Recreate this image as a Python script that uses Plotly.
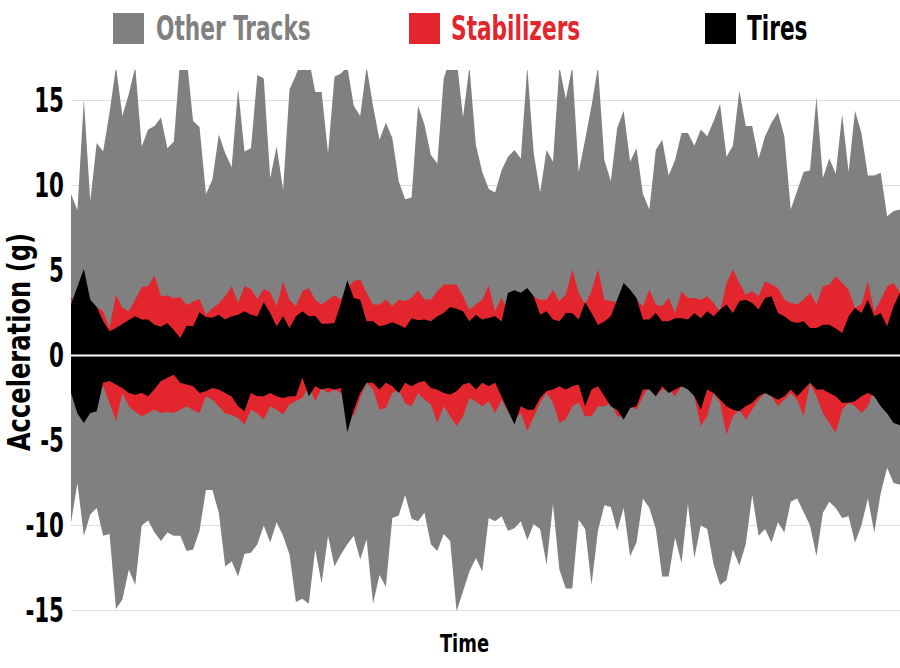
import plotly.graph_objects as go

# ---------------- data ----------------
time = list(range(130))

other_tracks_pos = [9.5, 8.55, 15.06, 9.1, 12.5, 12.0, 14.3, 17.0, 14.1, 15.4,
 17.0, 12.3, 13.3, 13.5, 14.0, 12.2, 12.6, 17.5, 17.5, 13.8,
 13.45, 9.5, 10.35, 13.0, 11.9, 11.1, 15.7, 12.0, 12.2, 16.5,
 16.3, 10.45, 12.3, 9.76, 15.65, 16.5, 17.5, 17.5, 15.5, 15.5,
 11.9, 16.4, 16.6, 17.0, 14.7, 14.1, 17.0, 14.7, 12.7, 13.7,
 12.8, 10.25, 9.2, 9.3, 14.7, 13.6, 11.8, 11.3, 16.3, 17.5,
 17.5, 14.0, 17.0, 12.4, 10.8, 9.8, 9.6, 10.9, 11.7, 12.1,
 11.6, 17.0, 11.9, 9.6, 12.1, 11.4, 17.0, 15.1, 17.0, 10.8,
 12.7, 14.7, 17.0, 11.5, 10.25, 13.4, 14.4, 11.4, 12.2, 9.5,
 8.6, 12.1, 12.7, 10.6, 11.5, 13.1, 13.1, 12.35, 13.3, 12.9,
 13.8, 14.8, 11.7, 12.35, 15.6, 13.5, 13.5, 11.6, 12.9, 13.7,
 14.3, 12.9, 8.6, 9.7, 10.8, 10.9, 15.2, 10.45, 11.6, 10.7,
 14.2, 10.8, 14.4, 13.1, 10.6, 10.6, 10.75, 8.2, 8.5, 8.6]

other_tracks_neg = [-9.84, -7.49, -10.6, -9.35, -8.96, -10.6, -10.5, -14.9, -14.35, -12.6,
 -13.5, -10.0, -9.7, -10.4, -10.9, -10.4, -10.6, -10.6, -11.5, -11.4,
 -10.3, -7.9, -7.9, -9.25, -12.4, -12.1, -13.0, -11.65, -11.6, -11.1,
 -10.0, -11.0, -9.8, -10.6, -11.7, -14.5, -14.3, -14.6, -11.4, -13.4,
 -10.6, -12.4, -11.7, -11.1, -10.6, -12.0, -10.8, -14.6, -12.9, -13.6,
 -9.55, -9.4, -8.2, -9.6, -9.75, -9.25, -11.1, -11.5, -10.5, -10.9,
 -15.04, -13.9, -12.7, -11.9, -12.7, -9.55, -9.75, -9.45, -10.3, -10.15,
 -9.75, -10.85, -9.9, -10.2, -12.3, -8.75, -12.6, -13.7, -13.7, -9.65,
 -10.2, -13.5, -10.3, -8.8, -8.9, -10.3, -8.96, -11.8, -11.0, -8.4,
 -8.96, -10.2, -13.0, -13.0, -10.7, -12.2, -8.75, -11.9, -10.0, -10.2,
 -12.3, -13.5, -13.2, -11.4, -12.35, -11.1, -8.2, -10.6, -10.2, -11.0,
 -9.8, -10.4, -8.6, -8.4, -9.2, -10.0, -11.8, -9.25, -8.6, -8.96,
 -9.55, -9.45, -11.0, -10.0, -8.4, -10.4, -8.1, -6.6, -7.5, -7.6]

stabilizers_pos = [3.5, 3.0, 2.8, 2.9, 2.86, 2.61, 1.63, 3.59, 2.8, 2.61,
 3.3, 4.04, 4.08, 4.71, 3.49, 3.53, 3.37, 3.45, 2.98, 3.18,
 3.33, 2.41, 2.8, 3.06, 3.5, 4.08, 3.1, 4.08, 3.92, 3.33,
 3.92, 3.73, 2.9, 4.37, 3.29, 2.9,
 3.78, 3.98, 3.29, 3.0,
 3.29, 3.55, 3.29, 4.0, 4.37, 4.47, 3.69, 3.0, 3.0, 3.3,
 2.9, 3.3, 3.2, 3.4, 3.85, 3.3, 3.3, 3.78, 4.18, 4.18,
 4.18, 3.49, 2.7, 3.0, 3.29, 4.12, 2.6, 3.4, 2.6, 3.78,
 3.69, 3.78, 3.49, 3.29, 3.29, 3.88, 3.2, 3.6, 5.06, 3.7,
 3.0, 3.8, 5.1,
 3.29, 3.2, 3.14, 4.27, 3.9, 3.29, 2.9, 3.88, 3.0,
 2.9, 3.4, 2.5, 3.78, 3.39, 3.39, 3.29, 3.49, 3.1, 2.6,
 4.27, 5.06, 4.27, 3.59, 3.78, 3.49, 4.37, 4.18, 3.98, 3.3,
 3.1, 3.0, 3.3, 3.69, 3.0, 4.08, 4.18, 4.67, 4.27, 3.88,
 2.8, 3.0, 4.37, 2.6, 3.29, 4.08, 4.27, 3.69]

stabilizers_neg = [-2.3, -2.5, -2.8, -2.6, -1.8, -1.8, -2.8, -3.86, -2.2, -2.98,
 -3.3, -3.57, -3.37, -3.18, -3.37, -3.3, -3.37, -3.18, -2.98, -3.2,
 -3.37, -2.39, -2.59, -2.98, -3.4, -3.5, -3.67, -4.06, -3.18, -3.4,
 -3.76, -2.98, -3.18, -3.47, -2.88, -2.67,
 -2.49, -1.8, -2.69, -1.9,
 -2.2, -2.0, -2.2, -3.0, -3.57, -2.49, -1.6, -2.0, -3.18, -3.08,
 -2.2, -2.0, -2.8, -2.98, -2.2, -2.59, -2.88, -3.96, -2.98, -3.57,
 -4.16, -3.57, -2.49, -2.7, -2.98, -2.69, -3.37, -2.59, -3.3, -3.8,
 -3.37, -4.45, -3.57, -2.78, -2.2, -2.78, -3.96, -3.76, -2.98, -2.78,
 -3.57, -3.57, -2.98,
 -2.98, -2.78, -3.57, -3.6, -2.98, -3.18, -2.4, -1.7, -2.39,
 -2.0, -2.0, -2.39, -1.8, -1.7, -2.39, -4.16, -3.57, -2.2, -2.78,
 -4.65, -3.57, -3.18, -3.76, -3.18, -2.59, -2.2, -2.39, -2.98, -2.59,
 -2.2, -2.59, -3.57, -1.63, -2.39, -3.37, -3.96, -4.55, -3.18, -2.78,
 -2.98, -3.37, -2.98, -1.96, -2.39, -3.18, -3.96, -4.0]

tires_pos = [3.0, 4.0, 5.1, 3.29, 2.86, 2.02, 1.43, 1.63, 1.88, 2.1,
 2.31, 2.12, 2.12, 1.82, 1.69, 1.92, 1.5, 1.04, 1.76, 1.73,
 2.55, 2.27, 2.22, 2.41, 2.12, 2.31, 2.41, 2.61, 2.4, 2.31,
 3.14, 2.51, 1.73, 2.31, 1.63, 2.31,
 2.61, 2.31, 2.35, 1.88,
 1.88, 1.92, 3.1, 4.43, 3.39, 3.29, 2.02, 2.02, 1.73, 1.82,
 1.96, 1.82, 1.63, 2.2, 2.08, 2.12, 2.02, 2.31, 2.51, 2.86,
 2.75, 2.61, 2.02, 2.41, 2.12, 2.2, 2.31, 2.02, 3.69, 3.84,
 3.69, 3.98, 3.49, 2.41, 2.61, 2.12, 2.02, 2.51, 2.51, 2.12,
 3.14, 2.51, 1.8,
 2.0, 2.31, 3.3, 4.27, 3.88, 3.39, 2.12, 2.12, 2.51,
 2.02, 2.02, 2.2, 2.2, 2.12, 2.51, 2.2, 2.61, 2.31, 2.71,
 3.0, 2.51, 3.2, 3.29, 3.1, 2.71, 3.39, 3.49, 2.51, 2.31,
 2.02, 1.92, 2.02, 1.63, 1.63, 1.82, 1.82, 1.6, 1.33, 2.31,
 2.8, 2.51, 3.29, 2.31, 2.51, 1.73, 2.9, 3.69]

tires_neg = [-2.2, -3.4, -3.96, -3.37, -3.27, -1.6, -1.5, -1.7, -1.9, -2.2,
 -2.3, -2.2, -2.39, -1.96, -1.5, -1.3, -1.12, -1.6, -1.7, -1.8,
 -2.2, -2.1, -1.9, -2.0, -2.2, -2.4, -2.98, -3.27, -2.2, -2.39,
 -2.39, -2.2, -2.39, -2.5, -2.39, -2.39,
 -1.31, -2.39, -1.8, -2.0,
 -1.9, -2.0, -1.9, -4.51, -3.18, -2.2, -1.6, -1.6, -2.0, -1.6,
 -1.8, -2.2, -1.6, -1.8, -1.6, -1.5, -1.9, -2.0, -2.2, -2.29,
 -2.1, -1.7, -1.6, -2.0, -1.6, -1.8, -1.6, -2.39, -3.2, -4.06,
 -2.98, -3.18, -3.18, -2.49, -2.08, -2.0, -1.8, -2.0, -1.8, -1.7,
 -2.98, -2.0, -1.8,
 -2.39, -2.98, -3.2, -3.76, -3.08, -2.98, -2.0, -2.0, -2.39,
 -1.8, -2.2, -2.0, -1.8, -2.0, -2.39, -3.18, -2.0, -2.2, -2.59,
 -2.98, -3.18, -3.27, -2.98, -2.78, -2.39, -2.2, -2.39, -2.59, -2.39,
 -2.0, -2.39, -2.0, -1.6, -2.0, -2.0, -2.2, -2.39, -2.78, -2.78,
 -2.69, -2.39, -2.2, -2.39, -2.98, -3.4, -3.96, -4.1]

series_names = ["Other Tracks", "Stabilizers", "Tires"]
y_ticks = [-15, -10, -5, 0, 5, 10, 15]

# ---------------- styling ----------------
GRAY = "#808080"
RED = "#e3262e"
BLACK = "#000000"
FONT = "DejaVu Sans Condensed, DejaVu Sans, sans-serif"

fig = go.Figure()
pairs = [
    (other_tracks_pos, other_tracks_neg, GRAY, series_names[0]),
    (stabilizers_pos, stabilizers_neg, RED, series_names[1]),
    (tires_pos, tires_neg, BLACK, series_names[2]),
]
for pos, neg, col, name in pairs:
    for vals in (pos, neg):
        fig.add_trace(go.Scatter(
            x=time, y=vals, mode="lines", name=name,
            line=dict(width=0, color=col), fill="tozeroy", fillcolor=col,
            showlegend=False, hoverinfo="skip"))

W, H = 900, 668
ML, MR, MT, MB = 71, 0, 70, 54
PW, PH = W - ML - MR, H - MT - MB

def px_x(p):
    return (p - ML) / PW

def px_y(p):
    return (H - MB - p) / PH

shapes = [dict(type="line", xref="paper", yref="y", x0=0, x1=1, y0=0, y1=0,
               line=dict(color="white", width=2), layer="above")]
annotations = []
legend_items = [(113, 154, GRAY, series_names[0]),
                (409, 449, RED, series_names[1]),
                (705, 745, BLACK, series_names[2])]
for sq_left, txt_left, col, name in legend_items:
    shapes.append(dict(type="rect", xref="paper", yref="paper",
                       x0=px_x(sq_left), x1=px_x(sq_left + 31),
                       y0=px_y(44), y1=px_y(13),
                       fillcolor=col, line=dict(width=0), layer="above"))
    annotations.append(dict(xref="paper", yref="paper", x=px_x(txt_left), y=px_y(29),
                            xanchor="left", yanchor="middle", showarrow=False,
                            text=name, font=dict(family=FONT, size=33, color=col, weight="bold")))

fig.update_layout(
    width=W, height=H,
    margin=dict(l=ML, r=MR, t=MT, b=MB, pad=0, autoexpand=False),
    paper_bgcolor="white", plot_bgcolor="white",
    font=dict(family=FONT, color="black"),
    showlegend=False,
    shapes=shapes, annotations=annotations,
    xaxis=dict(range=[0, 129], showgrid=False, zeroline=False, showticklabels=False,
               showline=False, ticks="", automargin=False,
               title=dict(text="Time", font=dict(family=FONT, size=24, weight="bold"),
                          standoff=21)),
    yaxis=dict(range=[-15.2, 16.8], tickvals=y_ticks, ticktext=[str(v) for v in y_ticks],
               showgrid=True, gridcolor="#dedede", gridwidth=1, zeroline=False,
               showline=False, ticks="", ticklabelstandoff=6, automargin=False,
               tickfont=dict(family=FONT, size=33, weight="bold", color="black"),
               title=dict(text="Acceleration (g)", font=dict(family=FONT, size=32, weight="bold"),
                          standoff=0)),
)

# narrow the text horizontally (the reference uses a condensed display face)
post_js = """
var gd = document.getElementById('{plot_id}');
function squeeze(sel, s, mode, dx) {
  gd.querySelectorAll(sel).forEach(function(t) {
    var bb = t.getBBox();
    var anchor = mode || t.getAttribute('text-anchor') || 'start';
    var ax = anchor === 'end' ? bb.x + bb.width : (anchor === 'middle' ? bb.x + bb.width / 2 : bb.x);
    var tr = t.getAttribute('transform') || '';
    t.setAttribute('transform', tr + ' translate(' + (ax + (dx || 0)) + ',0) scale(' + s + ',1) translate(' + (-ax) + ',0)');
  });
}
squeeze('.ytick text', 0.72, 'end', 0);
squeeze('.annotation-text', 0.73, 'start', 0);
squeeze('.xtitle', 0.83, 'middle', -21);
squeeze('.ytitle', 0.84, 'middle', 0);
"""

fig.write_html("out.html", post_script=post_js)
